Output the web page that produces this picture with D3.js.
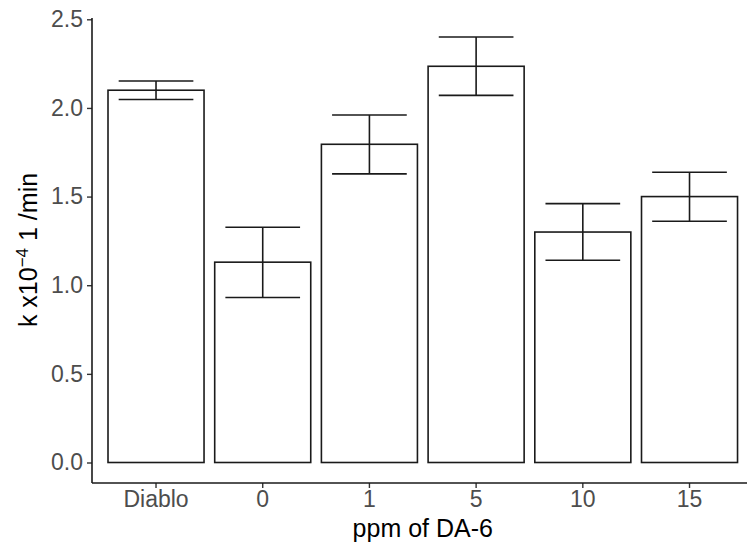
<!DOCTYPE html>
<html>
<head>
<meta charset="utf-8">
<script src="https://cdn.jsdelivr.net/npm/d3@7"></script>
<style>
  body { margin: 0; background: #fff; }
  text { font-family: "Liberation Sans", Arial, sans-serif; }
</style>
</head>
<body>
<div id="wrapper"></div>
<script>
var categories = ["Diablo", "0", "1", "5", "10", "15"];
var means = [2.10, 1.13, 1.795, 2.235, 1.30, 1.50];
var lower = [2.048, 0.931, 1.628, 2.071, 1.141, 1.361];
var upper = [2.152, 1.327, 1.960, 2.400, 1.460, 1.637];
var yTicks = [0, 0.5, 1.0, 1.5, 2.0, 2.5];

function draw(){
    var width = 747;
    var height = 546;
    var left = 92, top = 18, bottom = 483;

    var svg = d3.select("#wrapper").append("svg")
        .attr("width", width)
        .attr("height", height)

    var x = d3.scaleBand()
        .domain(categories)
        .range([left, left + 6.2 * 106.7])
        .paddingInner(0.1)
        .paddingOuter(0.15)
    var y = d3.scaleLinear()
        .domain([0, 2.5])
        .range([462.5, 19.3])

    var data = categories.map(function(c, i){
        return {cat: c, mean: means[i], lo: lower[i], hi: upper[i]}
    })

    // bars
    svg.selectAll(".bar")
        .data(data)
        .enter().append("rect")
        .attr("x", d => x(d.cat))
        .attr("y", d => y(d.mean))
        .attr("width", x.bandwidth())
        .attr("height", d => y(0) - y(d.mean))
        .attr("fill", "white")
        .attr("stroke", "#1a1a1a")
        .attr("stroke-width", 1.6)

    // error bars
    var step = x.step();
    var eb = svg.selectAll(".err")
        .data(data)
        .enter().append("g")
        .attr("stroke", "#1a1a1a")
        .attr("stroke-width", 1.6)
    eb.append("line")
        .attr("x1", d => x(d.cat) + x.bandwidth()/2)
        .attr("x2", d => x(d.cat) + x.bandwidth()/2)
        .attr("y1", d => y(d.lo))
        .attr("y2", d => y(d.hi))
    eb.append("line")
        .attr("x1", d => x(d.cat) + x.bandwidth()/2 - step*0.35)
        .attr("x2", d => x(d.cat) + x.bandwidth()/2 + step*0.35)
        .attr("y1", d => y(d.hi))
        .attr("y2", d => y(d.hi))
    eb.append("line")
        .attr("x1", d => x(d.cat) + x.bandwidth()/2 - step*0.35)
        .attr("x2", d => x(d.cat) + x.bandwidth()/2 + step*0.35)
        .attr("y1", d => y(d.lo))
        .attr("y2", d => y(d.lo))

    // axes
    var yAxis = d3.axisLeft(y)
        .tickValues(yTicks)
        .tickFormat(d3.format(".1f"))
        .tickSize(5)
        .tickPadding(4)
    var gy = svg.append("g")
        .attr("transform", "translate(" + left + ",0)")
        .call(yAxis)
    gy.select(".domain").remove()
    gy.append("line")
        .attr("x1", 0).attr("x2", 0)
        .attr("y1", top).attr("y2", bottom)
        .attr("stroke", "#1a1a1a").attr("stroke-width", 1.6)

    var xAxis = d3.axisBottom(x)
        .tickSize(5)
        .tickPadding(3)
    var gx = svg.append("g")
        .attr("transform", "translate(0," + bottom + ")")
        .call(xAxis)
    gx.select(".domain").remove()
    gx.append("line")
        .attr("x1", left).attr("x2", width)
        .attr("y1", 0).attr("y2", 0)
        .attr("stroke", "#1a1a1a").attr("stroke-width", 1.6)

    svg.selectAll(".tick line")
        .attr("stroke", "#333").attr("stroke-width", 1.4)
    svg.selectAll(".tick text")
        .attr("fill", "#4d4d4d")
        .attr("font-size", 23)
        .attr("font-family", "Liberation Sans, Arial, sans-serif")

    // axis titles
    svg.append("text")
        .attr("x", (left + left + 6.2*106.7)/2)
        .attr("y", 537)
        .attr("text-anchor", "middle")
        .attr("font-size", 25)
        .text("ppm of DA-6")

    var yt = svg.append("text")
        .attr("transform", "translate(37,250) rotate(-90)")
        .attr("text-anchor", "middle")
        .attr("font-size", 25)
    yt.append("tspan").text("k x10")
    yt.append("tspan").attr("dy", -9).attr("font-size", 17).text("\u22124")
    yt.append("tspan").attr("dy", 9).text(" 1 /min")
}
draw()
</script>
</body>
</html>
